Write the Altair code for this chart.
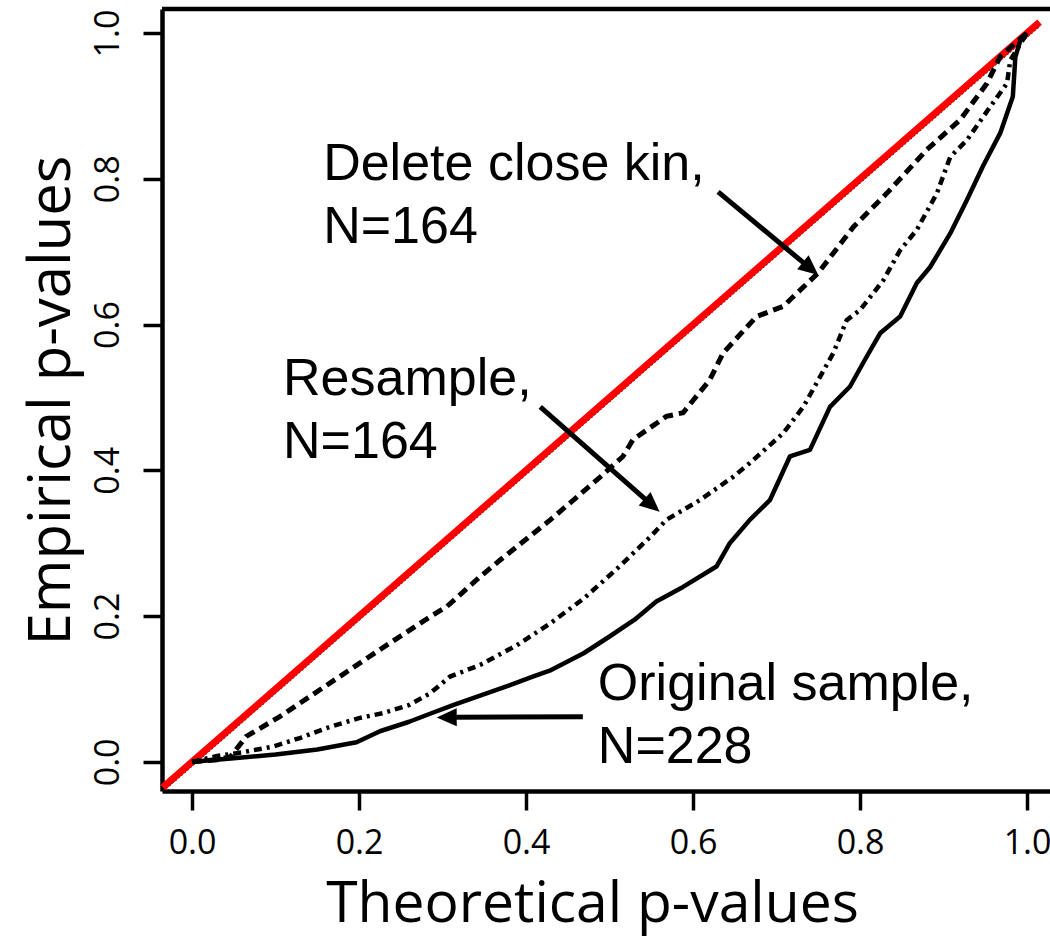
import math
import altair as alt
import pandas as pd

# ---- data ----
orig_x = [0.0, 0.05, 0.10, 0.15, 0.197, 0.225, 0.26, 0.285, 0.315, 0.345, 0.38, 0.408, 0.43, 0.469,
          0.5, 0.53, 0.556, 0.588, 0.628, 0.644, 0.668, 0.692, 0.716, 0.74, 0.764, 0.788, 0.805,
          0.824, 0.848, 0.868, 0.884, 0.908, 0.928, 0.947, 0.968, 0.983, 0.986, 0.992, 1.0]
orig_y = [0.0, 0.005, 0.010, 0.017, 0.027, 0.042, 0.055, 0.066, 0.079, 0.091, 0.105, 0.117, 0.126, 0.149,
          0.172, 0.195, 0.22, 0.24, 0.268, 0.300, 0.332, 0.359, 0.419, 0.428, 0.487, 0.515, 0.55,
          0.588, 0.611, 0.657, 0.679, 0.725, 0.771, 0.817, 0.863, 0.913, 0.967, 0.99, 1.0]

res_x = [0.0, 0.03, 0.06, 0.097, 0.13, 0.165, 0.2, 0.229, 0.26, 0.285, 0.309, 0.345, 0.389, 0.429,
         0.469, 0.509, 0.549, 0.568, 0.608, 0.648, 0.668, 0.708, 0.732, 0.768, 0.784, 0.8, 0.828,
         0.848, 0.868, 0.892, 0.908, 0.928, 0.956, 0.976, 0.98, 1.0]
res_y = [0.0, 0.008, 0.013, 0.021, 0.033, 0.048, 0.06, 0.067, 0.078, 0.094, 0.117, 0.133, 0.160, 0.190,
         0.224, 0.265, 0.309, 0.332, 0.359, 0.391, 0.41, 0.451, 0.487, 0.561, 0.606, 0.62, 0.661,
         0.702, 0.73, 0.78, 0.83, 0.853, 0.899, 0.931, 0.963, 1.0]

kin_x = [0.0, 0.03, 0.046, 0.065, 0.105, 0.165, 0.225, 0.285, 0.305, 0.345, 0.369, 0.429, 0.489,
         0.516, 0.528, 0.568, 0.588, 0.62, 0.636, 0.676, 0.708, 0.75, 0.78, 0.792, 0.812, 0.832,
         0.88, 0.92, 0.952, 0.968, 1.0]
kin_y = [0.0, 0.003, 0.007, 0.035, 0.062, 0.108, 0.154, 0.199, 0.213, 0.254, 0.277, 0.332, 0.391,
         0.419, 0.442, 0.474, 0.479, 0.524, 0.561, 0.611, 0.625, 0.671, 0.716, 0.734, 0.757, 0.78,
         0.84, 0.881, 0.931, 0.968, 1.0]

diag_x = [-0.035, 1.015]
diag_y = [-0.035, 1.015]
under_y = [-0.040, 1.010]

labels = ["Delete close kin,\nN=164", "Resample,\nN=164", "Original sample,\nN=228"]
label_x = [0.157, 0.109, 0.486]
label_y = [0.798, 0.503, 0.085]

arrow_x0 = [0.630, 0.417, 0.468]
arrow_y0 = [0.782, 0.487, 0.062]
arrow_x1 = [0.750, 0.560, 0.293]
arrow_y1 = [0.668, 0.343, 0.061]

x_ticks = [0.0, 0.2, 0.4, 0.6, 0.8, 1.0]
y_ticks = [0.0, 0.2, 0.4, 0.6, 0.8, 1.0]

# ---- layout ----
W, H = 888, 782
XD = [-0.036, 1.0275]
YD = [-0.040, 1.033]
kx = W / (XD[1] - XD[0])
ky = H / (YD[1] - YD[0])

xs = alt.Scale(domain=XD, nice=False, zero=False)
ys = alt.Scale(domain=YD, nice=False, zero=False)

FONT = "Open Sans"
xaxis = alt.Axis(values=x_ticks, format=".1f", title="Theoretical p-values", grid=False,
                 labelFont=FONT, labelFontSize=34, labelColor="black", labelPadding=16,
                 tickSize=19, tickWidth=3.5, tickColor="black",
                 domainWidth=4.5, domainColor="black",
                 titleFont=FONT, titleFontSize=57, titleFontWeight="normal", titleColor="black",
                 titlePadding=16, titleX=430)
yaxis = alt.Axis(values=y_ticks, format=".1f", title="Empirical p-values", grid=False,
                 labelFont=FONT, labelFontSize=34, labelColor="black", labelAngle=270,
                 labelAlign="center", labelBaseline="bottom", labelPadding=18,
                 tickSize=19, tickWidth=3.5, tickColor="black",
                 domainWidth=4.5, domainColor="black",
                 titleFont=FONT, titleFontSize=58, titleFontWeight="normal", titleColor="black",
                 titlePadding=10)

def series(xv, yv):
    return pd.DataFrame({"x": xv, "y": yv, "i": list(range(len(xv)))})

base_enc = dict(x=alt.X("x:Q", scale=xs, axis=xaxis), y=alt.Y("y:Q", scale=ys, axis=yaxis),
                order="i:Q")

under = alt.Chart(series(diag_x, under_y)).mark_line(
    color="black", strokeWidth=2, strokeDash=[2, 2]).encode(**base_enc)
red = alt.Chart(series(diag_x, diag_y)).mark_line(
    color="#ff0000", strokeWidth=7).encode(**base_enc)
orig = alt.Chart(series(orig_x, orig_y)).mark_line(
    color="black", strokeWidth=4.5, strokeJoin="round").encode(**base_enc)
res = alt.Chart(series(res_x, res_y)).mark_line(
    color="black", strokeWidth=4.5, strokeDash=[8, 5, 3, 5]).encode(**base_enc)
kin = alt.Chart(series(kin_x, kin_y)).mark_line(
    color="black", strokeWidth=5, strokeDash=[10, 6]).encode(**base_enc)

# arrows
HEAD = 20.0
rows = []
for x0, y0, x1, y1 in zip(arrow_x0, arrow_y0, arrow_x1, arrow_y1):
    dxp = (x1 - x0) * kx
    dyp = -(y1 - y0) * ky
    ln = math.hypot(dxp, dyp)
    bx = x1 - (HEAD - 3) / ln * dxp / kx
    by = y1 + (HEAD - 3) / ln * dyp / ky
    ang = math.degrees(math.atan2(dxp, -dyp)) % 360
    rows.append({"x0": x0, "y0": y0, "bx": bx, "by": by, "x1": x1, "y1": y1, "ang": ang})
arr = pd.DataFrame(rows)

shafts = alt.Chart(arr).mark_rule(color="black", strokeWidth=5).encode(
    x=alt.X("x0:Q", scale=xs, axis=xaxis), y=alt.Y("y0:Q", scale=ys, axis=yaxis),
    x2="bx:Q", y2="by:Q")
heads = alt.Chart(arr).mark_point(
    shape="M0,0L-0.9,2L0.9,2Z", filled=True, color="black", opacity=1, size=400).encode(
    x=alt.X("x1:Q", scale=xs, axis=xaxis), y=alt.Y("y1:Q", scale=ys, axis=yaxis),
    angle=alt.Angle("ang:Q", scale=None))

lab = pd.DataFrame({"x": label_x, "y": label_y, "t": labels})
texts = alt.Chart(lab).mark_text(
    align="left", baseline="alphabetic", font="Liberation Sans", fontSize=52,
    lineBreak="\n", lineHeight=63, color="black").encode(
    x=alt.X("x:Q", scale=xs, axis=xaxis), y=alt.Y("y:Q", scale=ys, axis=yaxis), text="t:N")

top = alt.Chart(pd.DataFrame({"a": [0]})).mark_rule(color="black", strokeWidth=4.5).encode(
    x=alt.value(0), x2=alt.value(W), y=alt.value(0))

chart = alt.layer(under, red, kin, res, orig, shafts, heads, texts, top).properties(
    width=W, height=H,
    autosize=alt.AutoSizeParams(type="none"),
    padding={"left": 162, "top": 9, "right": 0, "bottom": 157},
    background="white",
).configure_view(strokeWidth=0)

chart.save("out.html", embed_options={"renderer": "svg", "actions": False})
